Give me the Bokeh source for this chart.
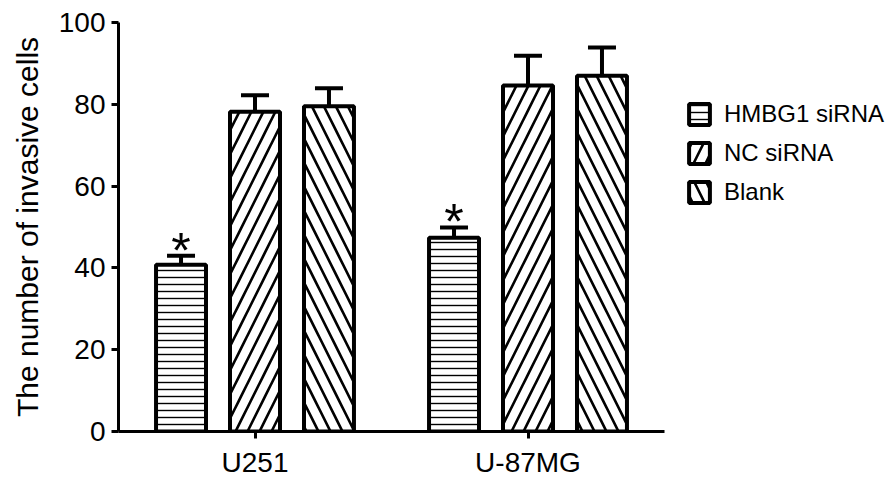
from bokeh.plotting import figure
from bokeh.models import (Whisker, TeeHead, ColumnDataSource, FixedTicker,
                          Legend, LegendItem, Range1d)
from bokeh.core.properties import value
from bokeh.embed import file_html
from bokeh.resources import INLINE

# ---- data ----
groups = ["U251", "U-87MG"]
series = ["HMBG1 siRNA", "NC siRNA", "Blank"]
hmbg1 = [40.8, 47.4]
nc = [78.2, 84.6]
blank = [79.5, 87.0]
hmbg1_err = [2.2, 2.5]
nc_err = [4.0, 7.3]
blank_err = [4.4, 6.9]
y_ticks = [0, 20, 40, 60, 80, 100]

values = [hmbg1, nc, blank]
errors = [hmbg1_err, nc_err, blank_err]
hatches = ["horizontal_line", "right_diagonal_line", "left_diagonal_line"]
hatch_scales = [7, 24, 24]
hatch_weights = [1.4, 2.6, 2.6]
offsets = [-0.271, 0.0, 0.271]
bar_w = 0.183
FONT = "Liberation Sans"

p = figure(output_backend="svg", toolbar_location=None,
           frame_width=546, frame_height=409,
           min_border_left=118, min_border_right=210,
           min_border_top=22, min_border_bottom=46,
           x_range=Range1d(0.5, 2.5), y_range=Range1d(0, 100))

group_x = [i + 1 for i in range(len(groups))]
renderers = []
for k, name in enumerate(series):
    xs = [g + offsets[k] for g in group_x]
    src = ColumnDataSource(dict(x=xs, top=values[k],
                                upper=[v + e for v, e in zip(values[k], errors[k])]))
    w = Whisker(base="x", lower="top", upper="upper", source=src,
                line_width=4, line_color="black",
                upper_head=TeeHead(size=28, line_width=4, line_color="black"),
                lower_head=None)
    p.add_layout(w)
    r = p.vbar(x="x", top="top", width=bar_w, source=src,
               fill_color="white", line_color="black", line_width=4,
               hatch_pattern=hatches[k], hatch_color="black",
               hatch_scale=hatch_scales[k], hatch_weight=hatch_weights[k])
    renderers.append(r)

# significance asterisks above HMBG1 siRNA bars
ast_src = ColumnDataSource(dict(
    x=[g + offsets[0] for g in group_x],
    y=[v + e for v, e in zip(hmbg1, hmbg1_err)],
    t=["*"] * len(groups)))
p.text(x="x", y="y", text="t", source=ast_src, text_align="center",
       text_baseline="middle", text_font=value(FONT),
       text_font_size="50px", text_color="black", y_offset=-5)

legend = Legend(items=[LegendItem(label=s, renderers=[r]) for s, r in zip(series, renderers)],
                location=(22, 225), orientation="vertical",
                glyph_width=26, glyph_height=26, spacing=11, label_standoff=12,
                padding=0, margin=0, border_line_color=None,
                background_fill_alpha=0,
                label_text_font=FONT, label_text_font_size="24px",
                label_text_color="black")
p.add_layout(legend, "right")

p.xaxis.ticker = FixedTicker(ticks=group_x)
p.xaxis.major_label_overrides = {g: name for g, name in zip(group_x, groups)}
p.yaxis.ticker = FixedTicker(ticks=y_ticks)
p.yaxis.axis_label = "The number of invasive cells"

for ax in (p.xaxis[0], p.yaxis[0]):
    ax.axis_line_width = 3
    ax.axis_line_color = "black"
    ax.major_tick_line_width = 3
    ax.major_tick_line_color = "black"
    ax.major_tick_out = 7
    ax.major_tick_in = 0
    ax.minor_tick_line_color = None
    ax.major_label_text_font = FONT
    ax.major_label_text_font_size = "28px"
    ax.major_label_text_color = "black"
    ax.major_label_standoff = 6
    ax.axis_label_text_font = FONT
    ax.axis_label_text_font_size = "30px"
    ax.axis_label_text_font_style = "normal"
    ax.axis_label_text_color = "black"
p.xaxis.major_label_standoff = 8
p.yaxis.axis_label_standoff = 12

p.grid.visible = False
p.outline_line_color = None
p.background_fill_color = "white"
p.border_fill_color = "white"

open("out.html", "w").write(file_html(p, INLINE))
